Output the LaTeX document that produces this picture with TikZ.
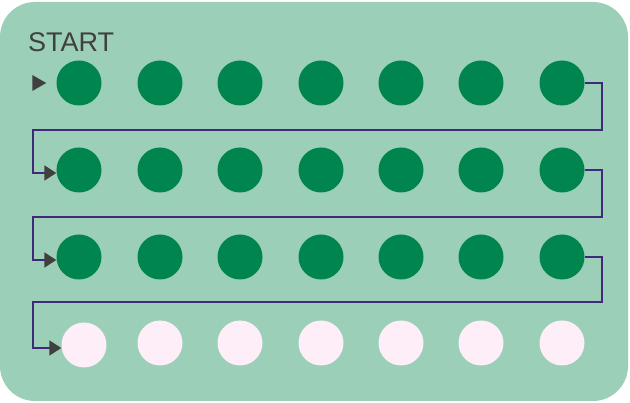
\documentclass[tikz,border=0pt]{standalone}
\usepackage{fontspec}
\setmainfont{Liberation Sans}
\usepackage[HTML]{xcolor}
\usetikzlibrary{positioning, arrows.meta}

\definecolor{cardgreen}{HTML}{9BCFB8}
\definecolor{pillgreen}{HTML}{00854F}
\definecolor{pillpink}{HTML}{FDEEF8}
\definecolor{linkpurple}{HTML}{3E2A78}
\definecolor{tipgray}{HTML}{404040}

\begin{document}
\begin{tikzpicture}[x=1pt,y=-1pt,
  pill/.style={circle,minimum size=45pt,inner sep=0pt},
  taken/.style={pill,fill=pillgreen},
  blank/.style={pill,fill=pillpink},
  link/.style={draw=linkpurple,line width=1.8pt,-{Triangle[length=12pt,width=15pt,color=tipgray]}}]
\useasboundingbox (0,0) rectangle (630,403);
\fill[cardgreen,rounded corners=35pt] (0,2) rectangle (628,401);
\node[anchor=base west,inner sep=0pt,text=tipgray,font=\fontsize{27}{30}\selectfont] (start) at (28,52) {START};
% the pills, row by row
\foreach \r/\y/\s in {1/83/taken,2/170/taken,3/257/taken,4/343/blank}
  \foreach \c/\x in {1/79,2/160,3/240,4/321,5/401,6/481,7/562}
    {\ifnum\r\c=41 \else \node[\s] (p\r-\c) at (\x,\y) {};\fi}
\node[blank] (p4-1) at (84,345) {};
\fill[tipgray] ([xshift=-10pt]p1-1.west) -- ++(-14,-8) -- ++(0,16) -- cycle;
% snake from one row to the next
\foreach \r/\n/\t in {1/2/130,2/3/217,3/4/302}
  \draw[link] (p\r-7.east) -| (602,\t) -- (33,\t) |- ([yshift=-3pt]p\n-1.west);
\end{tikzpicture}
\end{document}
